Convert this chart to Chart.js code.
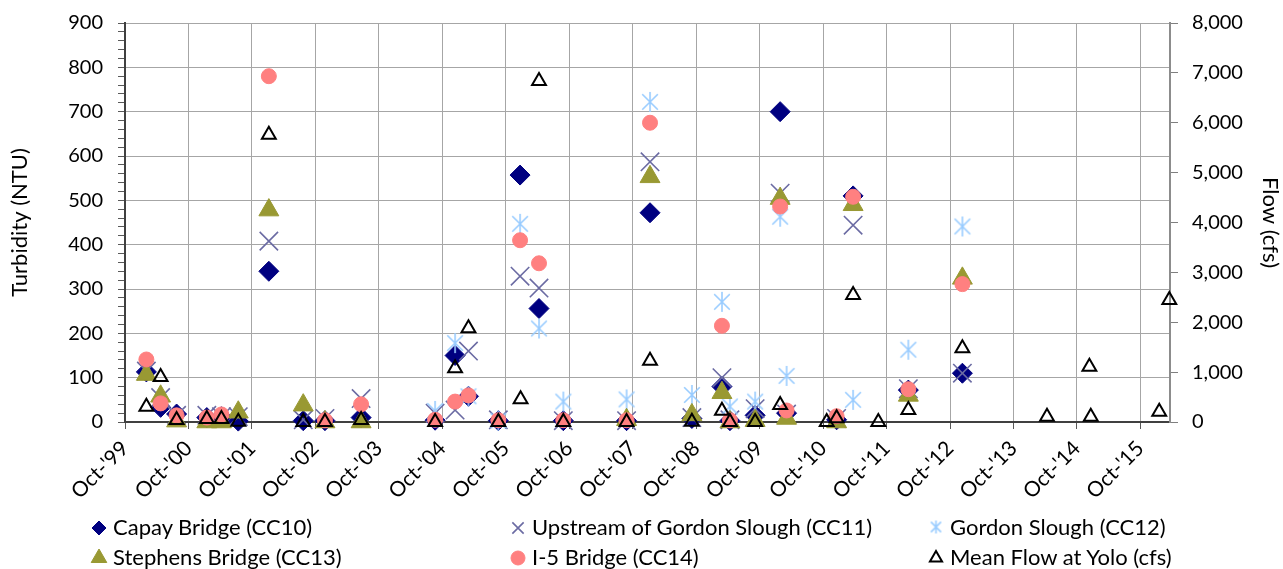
<!DOCTYPE html>
<html>
<head>
<meta charset="utf-8">
<script src="https://cdn.jsdelivr.net/npm/chart.js@4.4.1/dist/chart.umd.min.js"></script>
<style>
  html, body { margin: 0; padding: 0; background: #fff; }
  #wrap { position: relative; width: 1283px; height: 569px; font-family: Lato, sans-serif; }
  #chart { position: absolute; left: 0; top: 0; }
  .item { position: absolute; font-size: 22px; line-height: 26px; color: #000; white-space: nowrap; }
  .item canvas { position: absolute; left: -24px; top: 3px; }
</style>
</head>
<body>
<div id="wrap">
  <canvas id="chart" width="1283" height="569"></canvas>
  <div id="legend"></div>
</div>
<script>
// TURBIDITY + FLOW - SCATTER ON DATE AXIS

const sampleDates = [
    '2000-02-01', '2000-04-23', '2000-07-24', '2001-01-14', '2001-04-08', '2001-07-14',
    '2002-01-06', '2002-07-23', '2002-11-25', '2003-06-21', '2004-08-20', '2004-12-13',
    '2005-02-28', '2005-08-19', '2005-12-22', '2006-04-10', '2006-08-28', '2007-08-27',
    '2008-01-09', '2008-09-06', '2009-02-26', '2009-04-13', '2009-09-05', '2010-01-27',
    '2010-03-05', '2010-12-18', '2011-03-23', '2012-02-04', '2012-12-11'
];

const capay = [113, 33, 18, 10, 12, 2, 340, 3, 3, 10, 4, 150, 58, 3, 557, 256, 3, 3, 472, 8, 80, 3, 15, 700, 20, 5, 510, 72, 110];
const upstreamGordon = [115, 55, 15, 15, 12, 12, 408, 5, 8, 53, 20, 27, 160, 5, 329, 302, 3, 3, 587, 10, 100, 5, 30, 516, 18, 8, 444, 75, 110];
const gordonSlough = [null, null, null, null, null, null, null, null, null, null, 25, 178, 58, 3, 447, 211, 46, 51, 722, 61, 271, 35, 46, 463, 104, null, 50, 163, 441];
const stephens = [107, 58, 2, 0, 0, 22, 478, 38, 0, 0, null, null, null, null, null, null, null, 5, 553, 16, 66, 0, 3, 504, 8, 0, 490, 60, 324];
const i5Bridge = [141, 42, 15, 10, 17, null, 780, null, 4, 40, 5, 46, 60, 4, 410, 358, 4, 4, 675, null, 217, 4, null, 486, 26, 13, 508, 74, 311];

const flowDates = [
    '2000-02-01', '2000-04-23', '2000-07-24', '2001-01-14', '2001-04-08', '2001-07-14',
    '2002-01-06', '2002-07-23', '2002-11-25', '2003-06-21', '2004-08-20', '2004-12-13',
    '2005-02-28', '2005-08-19', '2005-12-25', '2006-04-10', '2006-08-28', '2007-08-27',
    '2008-01-09', '2008-09-06', '2009-02-26', '2009-04-13', '2009-09-05', '2010-01-27',
    '2010-10-22', '2010-12-18', '2011-03-23', '2011-08-15', '2012-02-04', '2012-12-11',
    '2014-04-12', '2014-12-12', '2014-12-20', '2016-01-18', '2016-03-16'
];
const flowYolo = [
    307, 900, 40, 60, 60, 5,
    5760, 0, 0, 40, 0, 1076,
    1878, 0, 455, 6837, 0, 0,
    1230, 6, 225, 0, 0, 341,
    0, 74, 2546, 0, 241, 1477,
    107, 1109, 107, 207, 2446
];

const xTickDates = ['1999-10-01', '2000-10-01', '2001-10-01', '2002-10-01', '2003-10-01', '2004-10-01',
    '2005-10-01', '2006-10-01', '2007-10-01', '2008-10-01', '2009-10-01', '2010-10-01',
    '2011-10-01', '2012-10-01', '2013-10-01', '2014-10-01', '2015-10-01'];
const xTickLabels = ["Oct-'99", "Oct-'00", "Oct-'01", "Oct-'02", "Oct-'03", "Oct-'04",
    "Oct-'05", "Oct-'06", "Oct-'07", "Oct-'08", "Oct-'09", "Oct-'10",
    "Oct-'11", "Oct-'12", "Oct-'13", "Oct-'14", "Oct-'15"];

const seriesNames = [
    'Capay Bridge (CC10)', 'Upstream of Gordon Slough (CC11)', 'Gordon Slough (CC12)',
    'Stephens Bridge (CC13)', 'I-5 Bridge (CC14)', 'Mean Flow at Yolo (cfs)'
];

function toMs(d) {
    const p = d.split('-');
    return Date.UTC(+p[0], +p[1] - 1, +p[2]);
}

function points(dates, vals) {
    return dates.map((d, i) => ({x: toMs(d), y: vals[i]})).filter(p => p.y !== null);
}

// asterisk marker (excel "star")
function starImage(size, color) {
    const c = document.createElement('canvas');
    c.width = size; c.height = size;
    const g = c.getContext('2d');
    const m = size / 2, r = size / 2 - 1, d = r * 0.78;
    g.strokeStyle = color;
    g.lineWidth = 1.6;
    g.beginPath();
    g.moveTo(m, m - r); g.lineTo(m, m + r);
    g.moveTo(m - d, m - d); g.lineTo(m + d, m + d);
    g.moveTo(m - d, m + d); g.lineTo(m + d, m - d);
    g.stroke();
    return c;
}

const FONT = 'Lato';
const starBig = starImage(22, '#99CCFF');

const styles = [
    {pointStyle: 'rectRot', radius: 10, bg: '#000080', border: '#000080', bw: 1},
    {pointStyle: 'crossRot', radius: 13, bg: '#6B6BA3', border: '#6B6BA3', bw: 1.6},
    {pointStyle: starBig, radius: 10, bg: '#99CCFF', border: '#99CCFF', bw: 1},
    {pointStyle: 'triangle', radius: 11.5, bg: '#999933', border: '#999933', bw: 1},
    {pointStyle: 'circle', radius: 7.5, bg: '#FF8080', border: '#FF8080', bw: 1},
    {pointStyle: 'triangle', radius: 8, bg: 'rgba(0,0,0,0)', border: '#000000', bw: 2}
];

const turbSeries = [capay, upstreamGordon, gordonSlough, stephens, i5Bridge];
const datasets = turbSeries.map((vals, i) => ({
    label: seriesNames[i],
    data: points(sampleDates, vals),
    yAxisID: 'y',
    order: 6 - i,
    clip: false,
    pointStyle: styles[i].pointStyle,
    pointRadius: styles[i].radius,
    pointHoverRadius: styles[i].radius,
    pointBackgroundColor: styles[i].bg,
    pointBorderColor: styles[i].border,
    pointBorderWidth: styles[i].bw,
    showLine: false
}));
datasets.push({
    label: seriesNames[5],
    data: points(flowDates, flowYolo),
    yAxisID: 'y1',
    order: 1,
    clip: false,
    pointStyle: styles[5].pointStyle,
    pointRadius: styles[5].radius,
    pointHoverRadius: styles[5].radius,
    pointBackgroundColor: styles[5].bg,
    pointBorderColor: styles[5].border,
    pointBorderWidth: styles[5].bw,
    showLine: false
});

const tickFont = {family: FONT, size: 20};

// fixed plot box: left 125, right 1170, top 23, bottom 422
const chart = new Chart(document.getElementById('chart'), {
    type: 'scatter',
    data: {datasets: datasets},
    options: {
        responsive: false,
        animation: false,
        devicePixelRatio: 1,
        layout: {autoPadding: false, padding: {top: 23, left: 0, right: 0, bottom: 0}},
        plugins: {legend: {display: false}, tooltip: {enabled: false}},
        scales: {
            x: {
                type: 'linear',
                position: 'bottom',
                min: toMs('1999-10-01'),
                max: toMs('2016-03-20'),
                afterBuildTicks: s => { s.ticks = xTickDates.map(d => ({value: toMs(d)})); },
                afterFit: s => { s.height = 147; s.paddingLeft = 0; s.paddingRight = 0; },
                ticks: {
                    autoSkip: false,
                    minRotation: 45,
                    maxRotation: 45,
                    padding: 7,
                    color: '#000',
                    font: {family: FONT, size: 21},
                    callback: (v, i) => xTickLabels[i]
                },
                grid: {color: '#A6A6A6', tickColor: '#595959', tickLength: 7},
                border: {color: '#404040', width: 2}
            },
            y: {
                position: 'left',
                min: 0,
                max: 900,
                afterFit: s => { s.width = 125; s.paddingTop = 0; s.paddingBottom = 0; },
                ticks: {
                    stepSize: 20,
                    autoSkip: false,
                    padding: 15,
                    color: '#000',
                    font: tickFont,
                    callback: v => (v % 100 === 0 ? v : '')
                },
                grid: {
                    color: c => (c.tick && c.tick.value % 100 === 0 ? '#A6A6A6' : 'rgba(0,0,0,0)'),
                    tickColor: '#595959',
                    tickLength: 7
                },
                border: {color: '#404040', width: 2},
                title: {display: true, text: 'Turbidity (NTU)', color: '#000', font: {family: FONT, size: 22}, padding: {top: 7, bottom: 0}}
            },
            y1: {
                position: 'right',
                min: 0,
                max: 8000,
                afterFit: s => { s.width = 113; s.paddingTop = 0; s.paddingBottom = 0; },
                ticks: {
                    stepSize: 1000,
                    padding: 14,
                    color: '#000',
                    font: tickFont,
                    callback: v => v.toLocaleString('en-US')
                },
                grid: {drawOnChartArea: false, tickColor: '#7F7F7F', tickLength: 8},
                border: {color: '#8C8C8C', width: 2},
                title: {display: true, text: 'Flow (cfs)', color: '#000', font: {family: FONT, size: 22}, padding: {top: 0, bottom: 0}}
            }
        }
    }
});

// LEGEND - 3 columns under the chart

const legendPos = [[113, 514], [532, 514], [950, 514], [113, 544], [532, 544], [950, 544]];
const legendRadius = [7, 8, 7, 9, 7, 7];
const legendDiv = document.getElementById('legend');
seriesNames.forEach((name, i) => {
    const el = document.createElement('div');
    el.className = 'item';
    el.style.left = legendPos[i][0] + 'px';
    el.style.top = legendPos[i][1] + 'px';
    el.textContent = name;
    const c = document.createElement('canvas');
    c.width = 20; c.height = 20;
    const g = c.getContext('2d');
    const st = styles[i];
    if (i === 2) {
        g.drawImage(starImage(15, st.border), 2.5, 2.5);
    } else {
        g.fillStyle = st.bg;
        g.strokeStyle = st.border;
        g.lineWidth = st.bw;
        Chart.helpers.drawPoint(g, {pointStyle: st.pointStyle, radius: legendRadius[i], borderWidth: st.bw, rotation: 0}, 10, 11);
    }
    el.appendChild(c);
    legendDiv.appendChild(el);
});
</script>
</body>
</html>
